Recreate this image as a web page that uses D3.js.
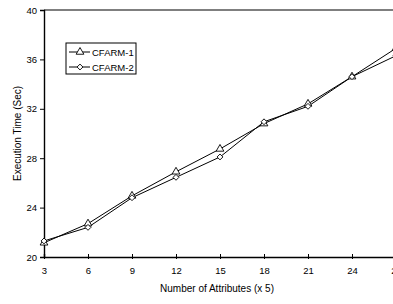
<!DOCTYPE html>
<html>
<head>
<meta charset="utf-8">
<script src="https://cdnjs.cloudflare.com/ajax/libs/d3/7.8.5/d3.min.js"></script>
<style>
  body { margin: 0; background: #fff; }
  svg { display: block; font-family: "Liberation Sans", Arial, sans-serif; }
</style>
</head>
<body>
<div id="chart"></div>
<script>
// data
var attributes = [3, 6, 9, 12, 15, 18, 21, 24, 27];
var cfarm1 = [21.15, 22.7, 24.95, 26.9, 28.75, 30.8, 32.4, 34.6, 36.9];
var cfarm2 = [21.3, 22.4, 24.8, 26.45, 28.1, 30.95, 32.2, 34.6, 36.3];
var seriesNames = ["CFARM-1", "CFARM-2"];
var yTicks = [20, 24, 28, 32, 36, 40];

var W = 393, H = 304;
var margin = {top: 10, right: -3, bottom: 47, left: 44};
var width = W - margin.left - margin.right,
    height = H - margin.top - margin.bottom;

var svg = d3.select("#chart")
  .append("svg")
    .attr("width", W)
    .attr("height", H)
  .append("g")
    .attr("transform", "translate(" + margin.left + "," + margin.top + ")");

var x = d3.scaleLinear().domain([3, 27]).range([0, width]);
var y = d3.scaleLinear().domain([20, 40]).range([height, 0]);

// frame top + right
svg.append("path")
  .attr("d", "M0,0H" + width + "V" + height)
  .attr("fill", "none")
  .attr("stroke", "#000")
  .attr("stroke-width", 1.2);

// X axis
var xAxis = svg.append("g")
  .attr("transform", "translate(0," + height + ")")
  .call(d3.axisBottom(x).tickValues(attributes).tickSize(-3).tickPadding(10));
xAxis.selectAll(".tick line").attr("y2", -3).attr("y1", 2);

// Y axis
var yAxis = svg.append("g")
  .call(d3.axisLeft(y).tickValues(yTicks).tickSize(4).tickPadding(3));

[xAxis, yAxis].forEach(function(a) {
  a.select(".domain").attr("stroke-width", 1.4);
  a.selectAll("text").attr("font-size", 9.5).attr("font-family", "Liberation Sans, Arial, sans-serif").attr("fill", "#000");
});

// axis titles
svg.append("text")
  .attr("x", width / 2 - 3)
  .attr("y", height + 35)
  .attr("text-anchor", "middle")
  .attr("font-size", 10)
  .text("Number of Attributes (x 5)");

svg.append("text")
  .attr("transform", "translate(-23," + (height / 2) + ") rotate(-90)")
  .attr("text-anchor", "middle")
  .attr("font-size", 10)
  .text("Execution Time (Sec)");

var line = d3.line()
  .x(function(d, i) { return x(attributes[i]); })
  .y(function(d) { return y(d); });

var sym = [d3.symbolTriangle, d3.symbolDiamond2];
var symSize = [26, 22];

var plot = svg.append("g");
[cfarm1, cfarm2].forEach(function(s, k) {
  plot.append("path")
    .datum(s)
    .attr("d", line)
    .attr("fill", "none")
    .attr("stroke", "#000")
    .attr("stroke-width", 1);
});
[cfarm1, cfarm2].forEach(function(s, k) {
  plot.selectAll(".m" + k)
    .data(s)
    .enter()
    .append("path")
      .attr("class", "m" + k)
      .attr("transform", function(d, i) { return "translate(" + x(attributes[i]) + "," + y(d) + ")"; })
      .attr("d", d3.symbol().type(sym[k]).size(symSize[k]))
      .attr("fill", "#fff")
      .attr("stroke", "#000")
      .attr("stroke-width", 0.9);
});

// legend
var lg = svg.append("g").attr("transform", "translate(22,33)");
lg.append("rect")
  .attr("width", 70).attr("height", 31)
  .attr("fill", "#fff").attr("stroke", "#000").attr("stroke-width", 1);
seriesNames.forEach(function(name, k) {
  var yy = 9 + k * 15;
  lg.append("line")
    .attr("x1", 3).attr("x2", 24).attr("y1", yy).attr("y2", yy)
    .attr("stroke", "#000");
  lg.append("path")
    .attr("transform", "translate(14," + yy + ")")
    .attr("d", d3.symbol().type(sym[k]).size(symSize[k]))
    .attr("fill", "#fff").attr("stroke", "#000").attr("stroke-width", 0.9);
  lg.append("text")
    .attr("x", 26).attr("y", yy + 3.5)
    .attr("font-size", 9.5)
    .text(name);
});
</script>
</body>
</html>
